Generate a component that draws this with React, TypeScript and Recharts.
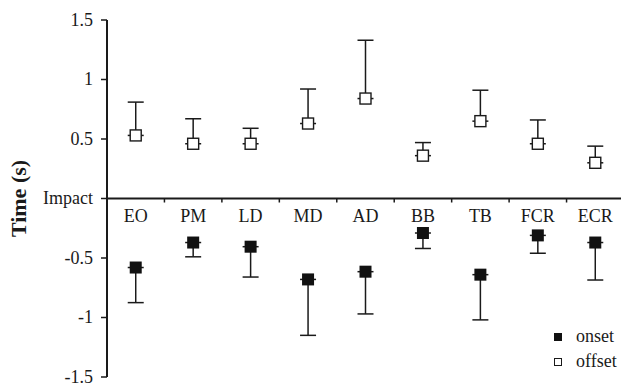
import { ErrorBar, ReferenceLine, Scatter, ScatterChart, XAxis, YAxis } from 'recharts'

const categories = ['EO', 'PM', 'LD', 'MD', 'AD', 'BB', 'TB', 'FCR', 'ECR']
// offset: mean and top of the error whisker (s)
const offsetMean = [0.53, 0.46, 0.46, 0.63, 0.84, 0.36, 0.65, 0.46, 0.3]
const offsetUpper = [0.81, 0.67, 0.59, 0.92, 1.33, 0.47, 0.91, 0.66, 0.44]
// onset: mean and bottom of the error whisker (s)
const onsetMean = [-0.58, -0.37, -0.405, -0.68, -0.615, -0.29, -0.64, -0.31, -0.37]
const onsetLower = [-0.875, -0.49, -0.66, -1.15, -0.97, -0.42, -1.02, -0.46, -0.685]
const yTicks = [-1.5, -1, -0.5, 0, 0.5, 1, 1.5]
const boundaries = [1, 2, 3, 4, 5, 6, 7, 8]

const FONT = '"Liberation Serif", "Times New Roman", serif'
const INK = '#1a1a1a'

const offsetData = categories.map((name, i) => ({
  x: i + 0.5,
  y: offsetMean[i],
  err: [0, offsetUpper[i] - offsetMean[i]],
  name,
}))
const onsetData = categories.map((name, i) => ({
  x: i + 0.5,
  y: onsetMean[i],
  err: [onsetMean[i] - onsetLower[i], 0],
  name,
}))
const labelData = categories.map((name, i) => ({ x: i + 0.5, y: 0, name }))
const tickData = boundaries.map((b) => ({ x: b, y: 0 }))

const Nothing = () => null

function OpenSquare({ cx, cy }: any) {
  return <rect x={cx - 5.5} y={cy - 5.5} width={11} height={11} fill="#fff" stroke={INK} strokeWidth={1.4} />
}

function FilledSquare({ cx, cy }: any) {
  return <rect x={cx - 6} y={cy - 6} width={12} height={12} fill="#111" />
}

function CategoryLabel({ cx, cy, payload }: any) {
  return (
    <text x={cx} y={cy + 23} textAnchor="middle" fontFamily={FONT} fontSize={18} fill={INK}>
      {payload.name}
    </text>
  )
}

function BoundaryTick({ cx, cy }: any) {
  return <line x1={cx} x2={cx} y1={cy} y2={cy + 4} stroke={INK} strokeWidth={1.5} />
}

function YTick({ x, y, payload }: any) {
  const v = payload.value
  return (
    <text x={x} y={y} dy="0.32em" textAnchor="end" fontFamily={FONT} fontSize={18} fill={INK}>
      {v === 0 ? 'Impact' : String(v)}
    </text>
  )
}

function YTitle({ viewBox }: any) {
  const x = 18
  const y = viewBox.y + viewBox.height / 2
  return (
    <text
      x={x}
      y={y}
      transform={`rotate(-90 ${x} ${y})`}
      textAnchor="middle"
      dominantBaseline="central"
      fontFamily={FONT}
      fontWeight="bold"
      fontSize={22}
      fill={INK}
    >
      Time (s)
    </text>
  )
}

export default function App() {
  return (
    <div style={{ position: 'absolute', left: 0, top: 0, width: 621, height: 385, overflow: 'hidden', background: '#fff' }}>
      <ScatterChart width={630} height={385} margin={{ top: 20, right: 6, bottom: 8, left: 0 }}>
        <XAxis dataKey="x" type="number" domain={[0, 9]} hide />
        <YAxis
          dataKey="y"
          type="number"
          domain={[-1.5, 1.5]}
          ticks={yTicks}
          interval={0}
          allowDataOverflow
          width={107}
          axisLine={{ stroke: INK, strokeWidth: 2 }}
          tickLine={{ stroke: INK, strokeWidth: 1.5 }}
          tickSize={6}
          tickMargin={8}
          tick={YTick}
          label={{ content: YTitle }}
        />
        <ReferenceLine y={0} stroke={INK} strokeWidth={2} />
        <Scatter data={tickData} shape={BoundaryTick} isAnimationActive={false} />
        <Scatter data={labelData} shape={CategoryLabel} isAnimationActive={false} />
        {/* whiskers first, markers drawn over them so the zero-length side stays hidden */}
        <Scatter data={offsetData} shape={Nothing} isAnimationActive={false}>
          <ErrorBar dataKey="err" direction="y" width={8} stroke={INK} strokeWidth={1.5} zIndex={100} />
        </Scatter>
        <Scatter data={onsetData} shape={Nothing} isAnimationActive={false}>
          <ErrorBar dataKey="err" direction="y" width={8} stroke={INK} strokeWidth={1.5} zIndex={100} />
        </Scatter>
        <Scatter data={offsetData} shape={OpenSquare} isAnimationActive={false} zIndex={2000} />
        <Scatter data={onsetData} shape={FilledSquare} isAnimationActive={false} zIndex={2000} />
      </ScatterChart>
      <div style={{ position: 'absolute', left: 554, top: 324, fontFamily: FONT, fontSize: 18, color: INK, lineHeight: '25px' }}>
        <div style={{ display: 'flex', alignItems: 'center' }}>
          <span style={{ display: 'inline-block', width: 8, height: 8, background: '#111', marginRight: 14 }} />
          onset
        </div>
        <div style={{ display: 'flex', alignItems: 'center' }}>
          <span style={{ display: 'inline-block', width: 6, height: 6, border: `1.2px solid ${INK}`, marginRight: 14 }} />
          offset
        </div>
      </div>
    </div>
  )
}
